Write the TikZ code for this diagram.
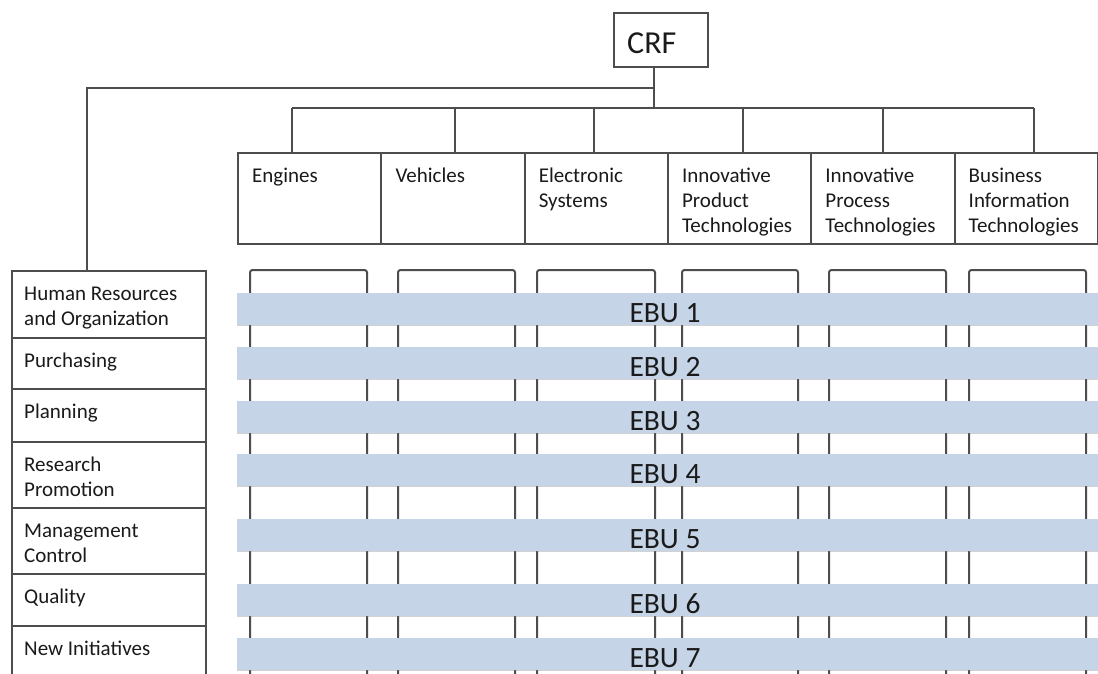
\documentclass[tikz,border=0pt]{standalone}
\usepackage{fontspec}
\setmainfont{Carlito}
\usetikzlibrary{shadows,calc}
\definecolor{ln}{HTML}{4D4D4D}
\definecolor{bandc}{HTML}{C5D5E7}
\definecolor{tx}{HTML}{1A1A1A}
\begin{document}
\begin{tikzpicture}[x=1pt,y=-1pt,
  conn/.style={line width=2pt, draw=ln},
  boxx/.style={draw=ln, line width=2pt, fill=white, inner sep=0pt, anchor=north west},
  topbox/.style={boxx, minimum width=143.3pt, minimum height=91pt},
  rowbox/.style={boxx, minimum width=194pt},
  lbl/.style={anchor=base west, inner sep=0pt, text=tx, font=\fontsize{21}{25}\selectfont},
  colline/.style={line width=2pt, draw=ln, rounded corners=2.5pt},
  ebuband/.style={fill=bandc, draw=none, inner sep=0pt, anchor=north west, minimum width=880pt, minimum height=32pt,
     drop shadow={opacity=0.35, shadow xshift=0pt, shadow yshift=-1.2pt}},
  ebulbl/.style={anchor=base, inner sep=0pt, text=tx, font=\fontsize{29.5}{32}\selectfont}]
\clip (0,0) rectangle (1098,673);
\fill[white] (0,0) rectangle (1098,673);

% column frames
\foreach \l/\r in {250/367, 398/515, 537/655, 682/798, 829/946, 969/1086}{
  \draw[colline] (\l,700) -- (\l,270) -- (\r,270) -- (\r,700);
}

% CRF
\node[boxx, minimum width=94pt, minimum height=54pt] (crf) at (613,12) {};
\node[anchor=base west, inner sep=0pt, text=tx, font=\fontsize{32}{36}\selectfont] (crft) at (627,53) {CRF};

% top boxes
\node[topbox] (eng) at (237,152) {};
\node[topbox] (veh) at (380.3,152) {};
\node[topbox] (ele) at (523.6,152) {};
\node[topbox] (ipt) at (666.9,152) {};
\node[topbox] (ipr) at (810.2,152) {};
\node[topbox] (bit) at (953.5,152) {};
\node[lbl] (engt) at ($(eng.north west)+(15,30)$) {\parbox[t]{128pt}{\raggedright Engines}};
\node[lbl] (veht) at ($(veh.north west)+(15,30)$) {\parbox[t]{128pt}{\raggedright Vehicles}};
\node[lbl] (elet) at ($(ele.north west)+(15,30)$) {\parbox[t]{128pt}{\raggedright Electronic\\Systems}};
\node[lbl] (iptt) at ($(ipt.north west)+(15,30)$) {\parbox[t]{128pt}{\raggedright Innovative\\Product\\Technologies}};
\node[lbl] (iprt) at ($(ipr.north west)+(15,30)$) {\parbox[t]{128pt}{\raggedright Innovative\\Process\\Technologies}};
\node[lbl] (bitt) at ($(bit.north west)+(15,30)$) {\parbox[t]{128pt}{\raggedright Business\\Information\\Technologies}};

% left rows
\node[rowbox, minimum height=67pt] (r1) at (11,270) {};
\node[rowbox, minimum height=51pt] (r2) at (11,337) {};
\node[rowbox, minimum height=53pt] (r3) at (11,388) {};
\node[rowbox, minimum height=66pt] (r4) at (11,441) {};
\node[rowbox, minimum height=66pt] (r5) at (11,507) {};
\node[rowbox, minimum height=52pt] (r6) at (11,573) {};
\node[rowbox, minimum height=80pt] (r7) at (11,625) {};
\node[lbl] (r1t) at ($(r1.north west)+(13,30)$) {\parbox[t]{178pt}{\raggedright Human Resources\\and Organization}};
\node[lbl] (r2t) at ($(r2.north west)+(13,30)$) {\parbox[t]{178pt}{\raggedright Purchasing}};
\node[lbl] (r3t) at ($(r3.north west)+(13,30)$) {\parbox[t]{178pt}{\raggedright Planning}};
\node[lbl] (r4t) at ($(r4.north west)+(13,30)$) {\parbox[t]{178pt}{\raggedright Research\\Promotion}};
\node[lbl] (r5t) at ($(r5.north west)+(13,30)$) {\parbox[t]{178pt}{\raggedright Management\\Control}};
\node[lbl] (r6t) at ($(r6.north west)+(13,30)$) {\parbox[t]{178pt}{\raggedright Quality}};
\node[lbl] (r7t) at ($(r7.north west)+(13,30)$) {\parbox[t]{178pt}{\raggedright New Initiatives}};

% EBU bands
\foreach \i/\t in {1/293, 2/347, 3/400.5, 4/454, 5/519, 6/584, 7/637.5}{
  \node[ebuband] (e\i) at (237,\t) {};
  \node[ebulbl] (e\i t) at ($(e\i.south west)+(428,-2.5)$) {EBU \i};
}

% connectors
\coordinate (bus) at (654,108);
\coordinate (lc) at (87,88);
\coordinate (d1) at (292,108);
\coordinate (d2) at (455,108);
\coordinate (d3) at (594,108);
\coordinate (d4) at (743,108);
\coordinate (d5) at (883,108);
\coordinate (d6) at (1034,108);
\draw[conn] (crf.south -| bus) -- (bus);
\draw[conn] (d1) -- (d6);
\draw[conn] (lc -| bus) -- (lc) -- (lc |- r1.north);
\draw[conn] (d1) -- (d1 |- eng.north);
\draw[conn] (d2) -- (d2 |- veh.north);
\draw[conn] (d3) -- (d3 |- ele.north);
\draw[conn] (d4) -- (d4 |- ipt.north);
\draw[conn] (d5) -- (d5 |- ipr.north);
\draw[conn] (d6) -- (d6 |- bit.north);
\end{tikzpicture}
\end{document}
